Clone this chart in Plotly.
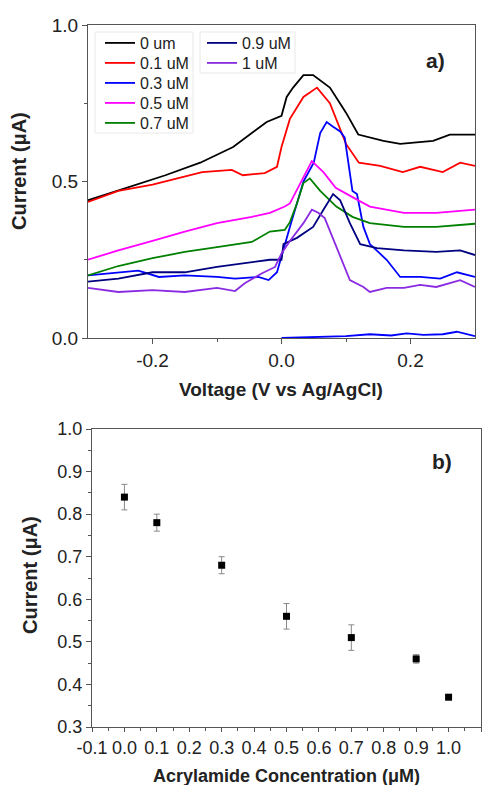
import plotly.graph_objects as go

# ---- panel a) : voltammograms ----
v_0 = [-0.30, -0.24, -0.18, -0.126, -0.075, -0.023, 0.0, 0.008, 0.018, 0.034, 0.049, 0.075, 0.10, 0.119, 0.158, 0.184, 0.235, 0.261, 0.30]
i_0 = [0.44, 0.48, 0.52, 0.56, 0.61, 0.69, 0.71, 0.77, 0.80, 0.84, 0.84, 0.80, 0.72, 0.65, 0.63, 0.62, 0.63, 0.65, 0.65]

v_01 = [-0.30, -0.253, -0.20, -0.15, -0.123, -0.077, -0.06, -0.026, -0.007, 0.0, 0.013, 0.034, 0.055, 0.075, 0.10, 0.12, 0.153, 0.188, 0.215, 0.25, 0.277, 0.30]
i_01 = [0.435, 0.47, 0.49, 0.515, 0.53, 0.537, 0.52, 0.527, 0.547, 0.61, 0.70, 0.77, 0.80, 0.75, 0.62, 0.56, 0.55, 0.53, 0.547, 0.53, 0.56, 0.55]

v_03 = [-0.30, -0.253, -0.222, -0.19, -0.15, -0.10, -0.072, -0.036, -0.02, -0.007, 0.005, 0.013, 0.034, 0.05, 0.06, 0.07, 0.08, 0.091, 0.098, 0.103, 0.11, 0.117, 0.127, 0.137, 0.163, 0.184, 0.215, 0.246, 0.272, 0.30]
i_03 = [0.20, 0.21, 0.215, 0.195, 0.20, 0.195, 0.19, 0.195, 0.185, 0.21, 0.30, 0.355, 0.50, 0.56, 0.655, 0.69, 0.675, 0.66, 0.64, 0.57, 0.47, 0.46, 0.355, 0.30, 0.25, 0.195, 0.195, 0.19, 0.21, 0.195]

v_03b = [0.0, 0.05, 0.10, 0.137, 0.17, 0.194, 0.22, 0.25, 0.272, 0.30]
i_03b = [0.0, 0.004, 0.006, 0.012, 0.008, 0.015, 0.01, 0.012, 0.02, 0.006]

v_05 = [-0.30, -0.253, -0.20, -0.15, -0.10, -0.046, -0.018, 0.005, 0.013, 0.03, 0.047, 0.065, 0.084, 0.11, 0.137, 0.19, 0.24, 0.30]
i_05 = [0.25, 0.28, 0.31, 0.34, 0.367, 0.387, 0.40, 0.42, 0.43, 0.50, 0.565, 0.53, 0.48, 0.45, 0.42, 0.40, 0.40, 0.41]

v_07 = [-0.30, -0.253, -0.20, -0.15, -0.10, -0.046, -0.018, 0.005, 0.013, 0.024, 0.034, 0.044, 0.06, 0.085, 0.11, 0.137, 0.19, 0.24, 0.30]
i_07 = [0.20, 0.23, 0.255, 0.275, 0.29, 0.307, 0.34, 0.345, 0.37, 0.43, 0.495, 0.51, 0.47, 0.42, 0.387, 0.367, 0.355, 0.355, 0.365]

v_09 = [-0.30, -0.253, -0.20, -0.15, -0.10, -0.046, -0.018, 0.0, 0.003, 0.024, 0.049, 0.065, 0.08, 0.091, 0.106, 0.122, 0.148, 0.19, 0.24, 0.277, 0.30]
i_09 = [0.18, 0.19, 0.21, 0.21, 0.227, 0.243, 0.25, 0.25, 0.30, 0.32, 0.355, 0.41, 0.46, 0.44, 0.367, 0.30, 0.287, 0.28, 0.275, 0.28, 0.265]

v_1 = [-0.30, -0.253, -0.20, -0.15, -0.10, -0.072, -0.057, -0.03, -0.01, 0.0, 0.013, 0.034, 0.047, 0.057, 0.067, 0.085, 0.106, 0.127, 0.137, 0.163, 0.19, 0.215, 0.24, 0.277, 0.30]
i_1 = [0.16, 0.147, 0.153, 0.147, 0.16, 0.15, 0.175, 0.207, 0.227, 0.27, 0.31, 0.367, 0.41, 0.40, 0.383, 0.29, 0.185, 0.163, 0.147, 0.16, 0.16, 0.17, 0.163, 0.185, 0.163]

series_names = ["0 um", "0.1 uM", "0.3 uM", "0.5 uM", "0.7 uM", "0.9 uM", "1 uM"]
series_v = [v_0, v_01, v_03, v_05, v_07, v_09, v_1]
series_i = [i_0, i_01, i_03, i_05, i_07, i_09, i_1]
series_colors = ["#000000", "#ff0000", "#0000ff", "#ff00ff", "#008000", "#000080", "#8a2be2"]

# ---- panel b) : calibration ----
conc = [0.0, 0.1, 0.3, 0.5, 0.7, 0.9, 1.0]
peak_current = [0.84, 0.78, 0.68, 0.56, 0.51, 0.46, 0.37]
peak_err = [0.03, 0.02, 0.02, 0.03, 0.03, 0.01, 0.005]

conc_ticks = [-0.1, 0.0, 0.1, 0.2, 0.3, 0.4, 0.5, 0.6, 0.7, 0.8, 0.9, 1.0, 1.1]
conc_ticktext = ["-0.1", "0.0", "0.1", "0.2", "0.3", "0.4", "0.5", "0.6", "0.7", "0.8", "0.9", "1.0", "1.1"]
volt_ticks = [-0.2, 0.0, 0.2]
volt_ticktext = ["-0.2", "0.0", "0.2"]

# page body adds an 8 px offset, so lay out in a 485x777 figure
OFF = 8
W, H = 493 - OFF, 785 - OFF
ML, MR, MT, MB = 40, 2, 10, 2
PW, PH = W - ML - MR, H - MT - MB


def px(x):  # reference pixel x -> paper
    return (x - OFF - ML) / PW


def py(y):  # reference pixel y -> paper
    return 1 - (y - OFF - MT) / PH


FONT = "Liberation Sans, Arial, sans-serif"
TXT = "#222222"
AX = "#555555"

fig = go.Figure()
legend_pos = [(100, 43), (100, 63), (100, 83), (100, 103), (100, 123), (202, 43), (202, 63)]
for k, (name, vv, ii, col) in enumerate(zip(series_names, series_v, series_i, series_colors)):
    fig.add_trace(go.Scatter(x=vv, y=ii, mode="lines", name=name,
                             line=dict(color=col, width=1.8),
                             legend="legend" if k == 0 else "legend%d" % (k + 1),
                             xaxis="x", yaxis="y"))
fig.add_trace(go.Scatter(x=v_03b, y=i_03b, mode="lines", showlegend=False,
                         line=dict(color="#0000ff", width=1.8), xaxis="x", yaxis="y"))

fig.add_trace(go.Scatter(x=conc, y=peak_current, mode="markers", showlegend=False,
                         marker=dict(symbol="square", size=7, color="black"),
                         error_y=dict(type="data", array=peak_err, color="#888888",
                                      thickness=1, width=3),
                         xaxis="x2", yaxis="y2"))


def axis(size, **kw):
    d = dict(showline=True, linecolor=AX, linewidth=1.2, mirror=True,
             ticks="outside", ticklen=5, tickcolor=AX, showgrid=False, automargin=False,
             zeroline=False, tickangle=0, tickfont=dict(family=FONT, size=size, color=TXT))
    d.update(kw)
    return d


minor_style = dict(ticks="outside", ticklen=3, tickcolor=AX)


def label(text, x, y, size, angle=0):
    return dict(text=text, x=px(x), y=py(y), xref="paper", yref="paper",
                xanchor="center", yanchor="middle", textangle=angle, showarrow=False,
                font=dict(family=FONT, size=size, color=TXT))


layout = dict(
    width=W, height=H, margin=dict(l=ML, r=MR, t=MT, b=MB, autoexpand=False),
    plot_bgcolor="white", paper_bgcolor="white",
    font=dict(family=FONT, color=TXT),
    xaxis=axis(19, domain=[px(88), px(475)], range=[-0.3, 0.3], tickvals=volt_ticks,
               ticktext=volt_ticktext,
               minor=dict(tickvals=[-0.1, 0.1], **minor_style), anchor="y"),
    yaxis=axis(19, domain=[py(338), py(25)], range=[0, 1.0], tickvals=[0.0, 0.5, 1.0],
               ticktext=["0.0", "0.5", "1.0"],
               minor=dict(tickvals=[0.25, 0.75], **minor_style), anchor="x"),
    xaxis2=axis(18, domain=[px(92), px(481)], range=[-0.1, 1.1], tickvals=conc_ticks,
                ticktext=conc_ticktext, ticklen=4,
                minor=dict(dtick=0.05, tick0=0, **minor_style), anchor="y2"),
    yaxis2=axis(18, domain=[py(727), py(429)], range=[0.3, 1.0], tick0=0.3, dtick=0.1,
                tickformat=".1f", minor=dict(dtick=0.05, tick0=0, **minor_style), anchor="x2"),
    shapes=[
        dict(type="rect", xref="paper", yref="paper", x0=px(95), x1=px(193), y0=py(133), y1=py(32),
             line=dict(color="#e8e8e8", width=1), fillcolor="rgba(0,0,0,0)"),
        dict(type="rect", xref="paper", yref="paper", x0=px(200), x1=px(295), y0=py(73), y1=py(32),
             line=dict(color="#e8e8e8", width=1), fillcolor="rgba(0,0,0,0)"),
    ],
    annotations=[
        label("<b>a)</b>", 435, 60, 21),
        label("<b>b)</b>", 442, 461, 21),
        label("<b>Voltage (V vs Ag/AgCl)</b>", 281, 389, 19),
        label("<b>Current (μA)</b>", 19, 171, 20, -90),
        label("<b>Acrylamide Concentration (μM)</b>", 286, 776, 18),
        label("<b>Current (μA)</b>", 30, 575, 20, -90),
    ],
)
for k, (lx, ly) in enumerate(legend_pos):
    key = "legend" if k == 0 else "legend%d" % (k + 1)
    layout[key] = dict(x=px(lx), y=py(ly), xanchor="left", yanchor="middle",
                       bgcolor="rgba(255,255,255,0)", borderwidth=0,
                       font=dict(family=FONT, size=16, color=TXT))

fig.update_layout(**layout)
fig.write_html("out.html")
